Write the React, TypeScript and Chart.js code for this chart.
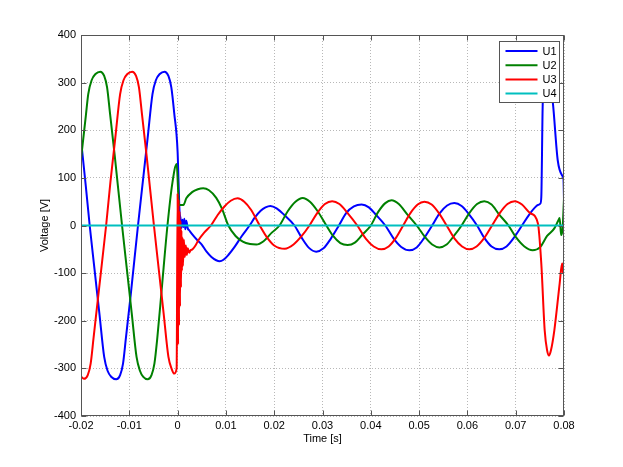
import React, { useEffect, useRef } from "react";
import { Chart, registerables } from "chart.js";

Chart.register(...registerables);

// ---- data (time in s, voltage in V) ----
const seriesNames = ["U1", "U2", "U3", "U4"];
const seriesColors = ["#0000ff", "#008000", "#ff0000", "#00bfbf"];

const u1T = [
  -0.02, -0.019, -0.0182, -0.0172, -0.0162, -0.0152, -0.0145, -0.0137, -0.0127, -0.0119,
  -0.0113, -0.0107, -0.0097, -0.0082, -0.0072, -0.0062, -0.0052, -0.0045, -0.0037, -0.0027,
  -0.0019, -0.0013, -0.0007, 0.0, 0.0002, 0.0004, 0.0006, 0.0008, 0.001, 0.0012,
  0.0014, 0.0016, 0.0018, 0.0021, 0.0024, 0.003, 0.0041, 0.005, 0.006, 0.007,
  0.008, 0.0087, 0.0095, 0.0105, 0.0118, 0.0133, 0.0149, 0.016, 0.0172, 0.0182,
  0.0192, 0.0205, 0.022, 0.0242, 0.0257, 0.0272, 0.0287, 0.0302, 0.0317, 0.0334,
  0.0349, 0.0365, 0.0381, 0.0396, 0.0411, 0.043, 0.0447, 0.0463, 0.048, 0.0495,
  0.051, 0.0527, 0.0542, 0.0558, 0.0573, 0.0588, 0.0603, 0.062, 0.0635, 0.065,
  0.0666, 0.0681, 0.0696, 0.0713, 0.0728, 0.074, 0.0746, 0.0751, 0.0753, 0.0756,
  0.076, 0.0765, 0.077, 0.0777, 0.0787, 0.0798, 0.0799, 0.08,
];
const u1V = [
  180, 82, 0, -92, -184, -276, -305, -318, -323, -314,
  -290, -236, -145, 0, 92, 184, 276, 305, 318, 323,
  314, 290, 236, 155, 90, 30, 15, -5, 12, -3,
  14, -8, 10, -6, -10, -18, -31, -40, -55, -66,
  -73, -75, -72, -62, -45, -22, 0, 17, 31, 38,
  41, 36, 23, 0, -26, -47, -55, -48, -28, 0,
  26, 40, 44, 38, 22, 0, -27, -45, -52, -46,
  -27, 0, 25, 42, 47, 41, 24, 0, -26, -44,
  -50, -44, -26, 0, 23, 38, 43, 46, 60, 257,
  300, 325, 305, 257, 137, 102, 98, 55,
];

const u2T = [
  -0.02, -0.019, -0.0185, -0.0178, -0.017, -0.016, -0.0152, -0.0146, -0.014, -0.013,
  -0.0115, -0.0105, -0.0095, -0.0085, -0.0078, -0.0071, -0.0062, -0.0054, -0.0048, -0.0042,
  -0.0033, -0.0021, -0.0011, -0.0002, 0.0003, 0.0012, 0.0018, 0.003, 0.0042, 0.0053,
  0.0065, 0.008, 0.0092, 0.0105, 0.012, 0.0135, 0.015, 0.0163, 0.0178, 0.0195,
  0.0211, 0.0228, 0.0244, 0.0259, 0.0274, 0.029, 0.0308, 0.0322, 0.0337, 0.0352,
  0.0367, 0.0382, 0.04, 0.0415, 0.043, 0.0443, 0.0458, 0.0475, 0.0495, 0.0512,
  0.0527, 0.0542, 0.0557, 0.0572, 0.0588, 0.0604, 0.062, 0.0635, 0.065, 0.0665,
  0.0685, 0.07, 0.0718, 0.0735, 0.075, 0.0765, 0.078, 0.0788, 0.0791, 0.0794,
  0.0797, 0.08,
];
const u2V = [
  140, 230, 276, 305, 318, 323, 314, 290, 236, 145,
  0, -92, -184, -276, -305, -318, -323, -314, -290, -236,
  -135, 0, 88, 129, 43, 43, 57, 70, 76, 78,
  74, 58, 35, 0, -22, -34, -39, -40, -33, -15,
  0, 30, 50, 58, 50, 30, 0, -22, -37, -41,
  -36, -20, 0, 28, 47, 53, 45, 24, 0, -24,
  -40, -46, -40, -22, 0, 26, 45, 51, 44, 24,
  0, -24, -44, -52, -46, -22, -6, 10, 16, -20,
  -8, 57,
];

const u3T = [
  -0.02, -0.0194, -0.0186, -0.018, -0.0174, -0.0164, -0.0148, -0.0139, -0.0129, -0.0119,
  -0.0112, -0.0104, -0.0094, -0.0086, -0.008, -0.0074, -0.0064, -0.0049, -0.0039, -0.0029,
  -0.0019, -0.0012, -0.0007, -0.0002, 0.0, 0.0001, 0.0002, 0.0003, 0.0004, 0.0005,
  0.0006, 0.0007, 0.0008, 0.0009, 0.001, 0.0011, 0.0013, 0.0015, 0.0017, 0.0019,
  0.0021, 0.0024, 0.0027, 0.0031, 0.0037, 0.0043, 0.0055, 0.0069, 0.0083, 0.0097,
  0.011, 0.0124, 0.0138, 0.0152, 0.017, 0.0185, 0.02, 0.0222, 0.024, 0.0257,
  0.0273, 0.0289, 0.0305, 0.032, 0.0335, 0.0352, 0.0372, 0.039, 0.0406, 0.0422,
  0.0437, 0.0452, 0.0467, 0.0482, 0.0497, 0.0511, 0.0526, 0.0541, 0.0557, 0.0573,
  0.0589, 0.0604, 0.0619, 0.0635, 0.0651, 0.0667, 0.0683, 0.0698, 0.0713, 0.073,
  0.0746, 0.0753, 0.076, 0.0765, 0.0769, 0.0773, 0.078, 0.0791, 0.0796, 0.0798,
  0.08,
];
const u3V = [
  -317, -322, -314, -290, -236, -145, 0, 92, 184, 276,
  305, 318, 323, 314, 290, 236, 145, 0, -92, -184,
  -276, -302, -311, -300, 68, -250, 55, -210, 30, -170,
  10, -130, -10, -95, -25, -85, -30, -66, -42, -62,
  -48, -57, -52, -50, -42, -31, -15, 0, 22, 40,
  52, 57, 50, 33, 0, -25, -42, -49, -40, -22,
  0, 26, 45, 51, 45, 26, 0, -28, -44, -50,
  -44, -26, 0, 26, 44, 50, 44, 26, 0, -27,
  -44, -50, -44, -26, 0, 26, 45, 51, 44, 26,
  4, -80, -220, -262, -273, -262, -220, -122, -80, -100,
  -75,
];

const u4T = [-0.02, 0.08];
const u4V = [0, 0];

const seriesT = [u1T, u2T, u3T, u4T];
const seriesV = [u1V, u2V, u3V, u4V];

const xMin = -0.02;
const xMax = 0.08;
const xStep = 0.01;
const yMin = -400;
const yMax = 400;
const yStep = 100;
const xTitle = "Time [s]";
const yTitle = "Voltage [V]";

const FONT = '"Liberation Sans", Arial, Helvetica, sans-serif';
const AXIS_COLOR = "#555555";

const framePlugin = {
  id: "matlabFrame",
  afterDatasetsDraw(chart: any) {
    const { ctx, chartArea: a, scales } = chart;
    const xs = scales.x;
    const ys = scales.y;
    ctx.save();
    ctx.strokeStyle = AXIS_COLOR;
    ctx.lineWidth = 1;
    ctx.setLineDash([]);
    const L = Math.round(a.left) + 0.5;
    const R = Math.round(a.right) - 0.5;
    const T = Math.round(a.top) + 0.5;
    const B = Math.round(a.bottom) - 0.5;
    ctx.strokeRect(L, T, R - L, B - T);
    const tl = 5;
    ctx.beginPath();
    xs.ticks.forEach((t: any) => {
      const px = Math.round(xs.getPixelForValue(t.value)) + 0.5;
      ctx.moveTo(px, B);
      ctx.lineTo(px, B - tl);
      ctx.moveTo(px, T);
      ctx.lineTo(px, T + tl);
    });
    ys.ticks.forEach((t: any) => {
      const py = Math.round(ys.getPixelForValue(t.value)) + 0.5;
      ctx.moveTo(L, py);
      ctx.lineTo(L + tl, py);
      ctx.moveTo(R, py);
      ctx.lineTo(R - tl, py);
    });
    ctx.stroke();
    ctx.restore();
  },
  afterDraw(chart: any) {
    const { ctx, chartArea: a } = chart;
    const w = 60;
    const h = 61;
    const left = Math.round(a.right) - 5 - w + 0.5;
    const top = Math.round(a.top) + 6 + 0.5;
    ctx.save();
    ctx.fillStyle = "#ffffff";
    ctx.fillRect(left, top, w, h);
    ctx.strokeStyle = AXIS_COLOR;
    ctx.lineWidth = 1;
    ctx.strokeRect(left, top, w, h);
    ctx.font = `11px ${FONT}`;
    ctx.textBaseline = "middle";
    ctx.textAlign = "left";
    chart.data.datasets.forEach((ds: any, i: number) => {
      const y = top + 9.5 + i * 14.2;
      ctx.strokeStyle = ds.borderColor;
      ctx.lineWidth = 2;
      ctx.beginPath();
      ctx.moveTo(left + 6, y);
      ctx.lineTo(left + 38, y);
      ctx.stroke();
      ctx.fillStyle = "#000000";
      ctx.fillText(ds.label, left + 43, y + 0.5);
    });
    ctx.restore();
  },
};

export default function App() {
  const canvasRef = useRef<HTMLCanvasElement | null>(null);

  useEffect(() => {
    const canvas = canvasRef.current;
    if (!canvas) return;
    const datasets = seriesNames.map((name, i) => ({
      label: name,
      data: seriesT[i].map((t, j) => ({ x: t, y: seriesV[i][j] })),
      borderColor: seriesColors[i],
      backgroundColor: seriesColors[i],
      borderWidth: 2,
      pointRadius: 0,
      fill: false,
      cubicInterpolationMode: "monotone" as const,
      order: seriesNames.length - 1 - i,
    }));

    const chart = new Chart(canvas, {
      type: "line",
      data: { datasets },
      options: {
        animation: false,
        responsive: false,
        devicePixelRatio: 1,
        parsing: true,
        events: [],
        layout: { padding: { left: 0, right: 59, top: 35, bottom: 0 } },
        plugins: {
          legend: { display: false },
          tooltip: { enabled: false },
        },
        scales: {
          x: {
            type: "linear",
            min: xMin,
            max: xMax,
            afterFit: (s: any) => {
              s.height = 51;
            },
            ticks: {
              stepSize: xStep,
              autoSkip: false,
              maxRotation: 0,
              padding: 3,
              color: "#000000",
              font: { family: FONT, size: 11 },
              callback: (v: any) => String(Number(Number(v).toFixed(2))),
            },
            grid: {
              color: "rgba(0,0,0,0.28)",
              lineWidth: 1,
              drawTicks: false,
            },
            border: { display: false, dash: [1, 2] },
            title: {
              display: true,
              text: xTitle,
              color: "#000000",
              font: { family: FONT, size: 11 },
              padding: { top: 0, bottom: 21 },
            },
          },
          y: {
            type: "linear",
            min: yMin,
            max: yMax,
            afterFit: (s: any) => {
              s.width = 81;
            },
            ticks: {
              stepSize: yStep,
              autoSkip: false,
              padding: 5,
              color: "#000000",
              font: { family: FONT, size: 11 },
              callback: (v: any) => String(Math.round(Number(v))),
            },
            grid: {
              color: "rgba(0,0,0,0.28)",
              lineWidth: 1,
              drawTicks: false,
            },
            border: { display: false, dash: [1, 2] },
            title: {
              display: true,
              text: yTitle,
              color: "#000000",
              font: { family: FONT, size: 11 },
              padding: { top: 38, bottom: 0 },
            },
          },
        },
      },
      plugins: [framePlugin],
    });
    return () => chart.destroy();
  }, []);

  return (
    <div style={{ position: "absolute", left: 0, top: 0, width: 623, height: 467, background: "#ffffff" }}>
      <canvas ref={canvasRef} width={623} height={467} style={{ display: "block" }} />
    </div>
  );
}
